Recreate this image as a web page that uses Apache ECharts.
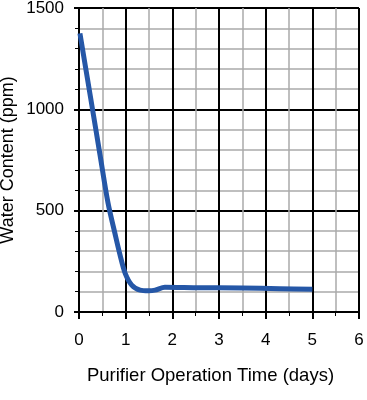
<!DOCTYPE html>
<html><head><meta charset="utf-8">
<script src="https://cdn.jsdelivr.net/npm/echarts@6/dist/echarts.min.js"></script>
<style>html,body{margin:0;padding:0;background:#fff}#c{width:367px;height:400px}</style>
</head><body><div id="c"></div>
<script>
var days = [0.02, 0.25, 0.45, 0.62, 0.77, 0.88, 0.99, 1.13, 1.31, 1.49, 1.63, 1.84, 2.5, 3.5, 4.3, 5.0];
var water = [1375, 1055, 776, 540, 388, 281, 191, 133, 108, 105, 108, 122, 120, 118, 115, 112];
var xTicks = [0, 1, 2, 3, 4, 5, 6];
var yTicks = [0, 500, 1000, 1500];
var xName = 'Purifier Operation Time (days)';
var yName = 'Water Content (ppm)';

var font = 'Liberation Sans, Arial, Helvetica, sans-serif';
var chart = echarts.init(document.getElementById('c'));
chart.setOption({
  animation: false,
  grid: {left: 79, right: 8, top: 8, bottom: 88, containLabel: false, outerBoundsMode: 'none'},
  xAxis: {
    type: 'value', min: xTicks[0], max: xTicks[xTicks.length - 1], interval: 1,
    name: xName, nameLocation: 'middle', nameGap: 54, nameMoveOverlap: false,
    nameTextStyle: {fontFamily: font, fontSize: 18.5, color: '#000', padding: [0, 17, 0, 0]},
    axisLine: {show: true, onZero: false, lineStyle: {color: '#000', width: 2}},
    axisTick: {show: true, inside: false, length: 7, lineStyle: {color: '#000', width: 2}},
    minorTick: {show: true, splitNumber: 2, length: 4, lineStyle: {color: '#000', width: 1}},
    axisLabel: {fontFamily: font, fontSize: 17, color: '#000', margin: 20,
      formatter: function (v) { return String(v); }},
    splitLine: {show: true, lineStyle: {color: '#000', width: 2}},
    minorSplitLine: {show: true, lineStyle: {color: '#aaa', width: 1.5}}
  },
  yAxis: {
    type: 'value', min: yTicks[0], max: yTicks[yTicks.length - 1], interval: 500,
    name: yName, nameLocation: 'middle', nameGap: 62, nameMoveOverlap: false,
    nameTextStyle: {fontFamily: font, fontSize: 18, color: '#000'},
    axisLine: {show: true, lineStyle: {color: '#000', width: 2}},
    axisTick: {show: true, inside: false, length: 5, lineStyle: {color: '#000', width: 2}},
    minorTick: {show: true, splitNumber: 5, length: 4, lineStyle: {color: '#000', width: 1}},
    axisLabel: {fontFamily: font, fontSize: 17, color: '#000', margin: 15,
      formatter: function (v) { return String(v); }},
    splitLine: {show: true, lineStyle: {color: '#000', width: 2}},
    minorSplitLine: {show: true, lineStyle: {color: '#aaa', width: 1.5}}
  },
  series: [{
    type: 'line',
    data: days.map(function (d, i) { return [d, water[i]]; }),
    smooth: 0.3,
    showSymbol: false,
    lineStyle: {color: '#2557a7', width: 5, cap: 'butt'}
  }]
});
</script></body></html>
